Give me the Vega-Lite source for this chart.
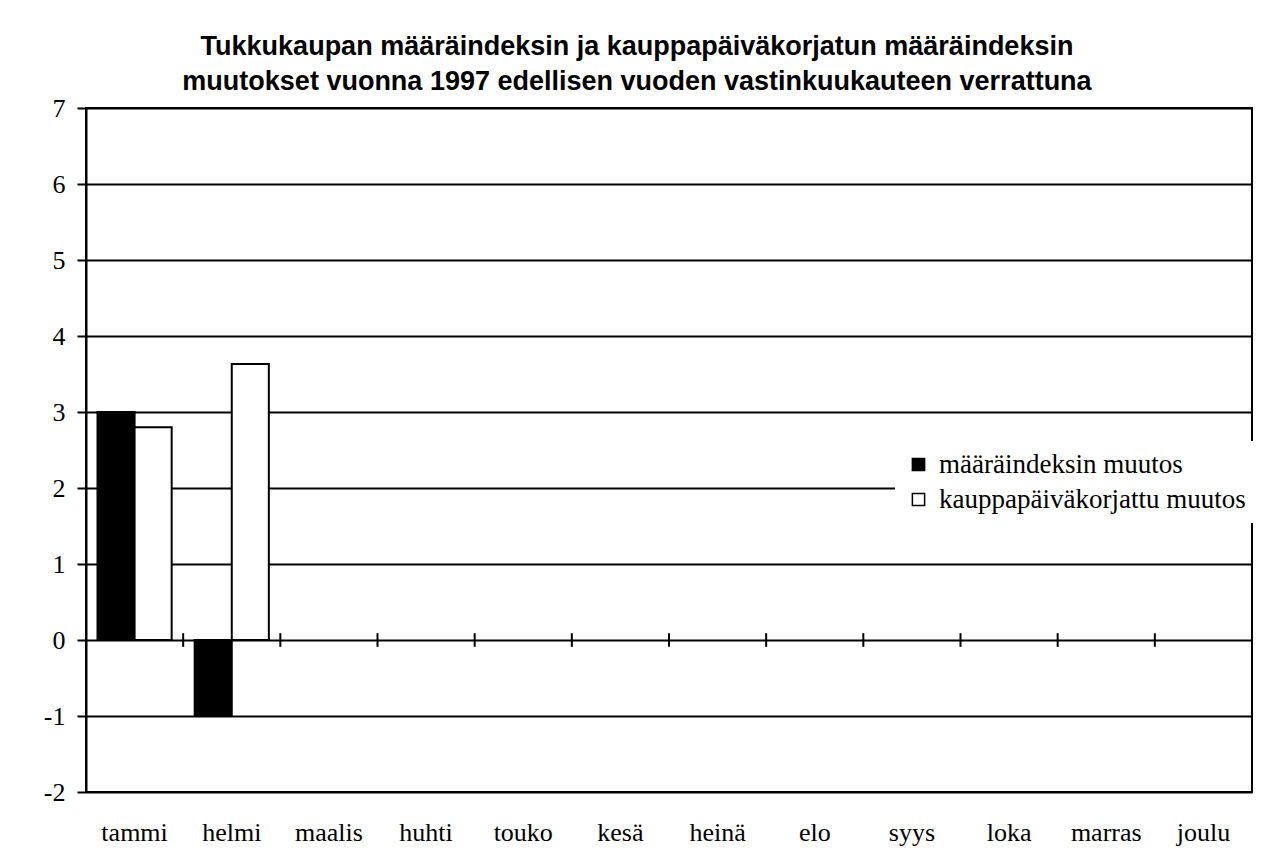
{
  "$schema": "https://vega.github.io/schema/vega-lite/v6.json",
  "width": 1166,
  "height": 684,
  "autosize": "none",
  "padding": {"left": 86, "top": 108, "right": 10, "bottom": 73},
  "background": "white",
  "title": {
    "text": ["Tukkukaupan määräindeksin ja kauppapäiväkorjatun määräindeksin", "muutokset vuonna 1997 edellisen vuoden vastinkuukauteen verrattuna"],
    "font": "Liberation Sans",
    "fontSize": 27,
    "fontWeight": "bold",
    "color": "black",
    "lineHeight": 35,
    "anchor": "middle",
    "offset": -1,
    "dx": -32
  },
  "datasets": {
    "muutokset": [
      {"kuukausi": "tammi", "sarja": "määräindeksin muutos", "muutos": 3.0},
      {"kuukausi": "tammi", "sarja": "kauppapäiväkorjattu muutos", "muutos": 2.8},
      {"kuukausi": "helmi", "sarja": "määräindeksin muutos", "muutos": -1.0},
      {"kuukausi": "helmi", "sarja": "kauppapäiväkorjattu muutos", "muutos": 3.63}
    ],
    "kuukaudet": [
      {"kuukausi": "tammi"}, {"kuukausi": "helmi"}, {"kuukausi": "maalis"}, {"kuukausi": "huhti"},
      {"kuukausi": "touko"}, {"kuukausi": "kesä"}, {"kuukausi": "heinä"}, {"kuukausi": "elo"},
      {"kuukausi": "syys"}, {"kuukausi": "loka"}, {"kuukausi": "marras"}, {"kuukausi": "joulu"}
    ]
  },
  "layer": [
    {
      "data": {"name": "muutokset"},
      "mark": {"type": "bar", "stroke": "black", "strokeWidth": 2},
      "encoding": {
        "x": {
          "field": "kuukausi",
          "type": "nominal",
          "sort": null,
          "scale": {
            "domain": ["tammi", "helmi", "maalis", "huhti", "touko", "kesä", "heinä", "elo", "syys", "loka", "marras", "joulu"],
            "paddingInner": 0,
            "paddingOuter": 0
          },
          "axis": {
            "title": null,
            "orient": "bottom",
            "ticks": false,
            "domain": false,
            "grid": false,
            "labelAngle": 0,
            "labelFont": "Liberation Serif",
            "labelFontSize": 26,
            "labelColor": "black",
            "labelPadding": 27
          }
        },
        "xOffset": {
          "field": "sarja",
          "type": "nominal",
          "sort": ["määräindeksin muutos", "kauppapäiväkorjattu muutos"],
          "scale": {"paddingInner": 0, "paddingOuter": 0.31}
        },
        "y": {
          "field": "muutos",
          "type": "quantitative",
          "scale": {"domain": [-2, 7], "nice": false, "zero": false},
          "axis": {
            "title": null,
            "values": [-2, -1, 0, 1, 2, 3, 4, 5, 6, 7],
            "labelExpr": "'' + datum.value",
            "grid": true,
            "gridColor": "black",
            "gridWidth": 2,
            "gridOpacity": 1,
            "tickColor": "black",
            "tickSize": 9,
            "tickWidth": 2,
            "domainColor": "black",
            "domainWidth": 2,
            "labelFont": "Liberation Serif",
            "labelFontSize": 26,
            "labelColor": "black",
            "labelPadding": 12
          }
        },
        "color": {
          "field": "sarja",
          "type": "nominal",
          "sort": ["määräindeksin muutos", "kauppapäiväkorjattu muutos"],
          "scale": {"domain": ["määräindeksin muutos", "kauppapäiväkorjattu muutos"], "range": ["black", "white"]},
          "legend": {
            "title": null,
            "orient": "none",
            "legendX": 809,
            "legendY": 333,
            "fillColor": "white",
            "padding": 10,
            "symbolType": "square",
            "symbolSize": 150,
            "symbolStrokeColor": "black",
            "symbolStrokeWidth": 1.5,
            "labelFont": "Liberation Serif",
            "labelFontSize": 27,
            "labelColor": "black",
            "labelOffset": 7,
            "rowPadding": 7,
            "labelLimit": 400
          }
        }
      }
    },
    {
      "data": {"name": "kuukaudet"},
      "mark": {"type": "rule", "color": "black", "strokeWidth": 2},
      "encoding": {
        "x": {"field": "kuukausi", "type": "nominal", "sort": null, "bandPosition": 0},
        "y": {"datum": -0.09},
        "y2": {"datum": 0.09}
      }
    }
  ],
  "config": {
    "view": {"stroke": "black", "strokeWidth": 2}
  }
}
